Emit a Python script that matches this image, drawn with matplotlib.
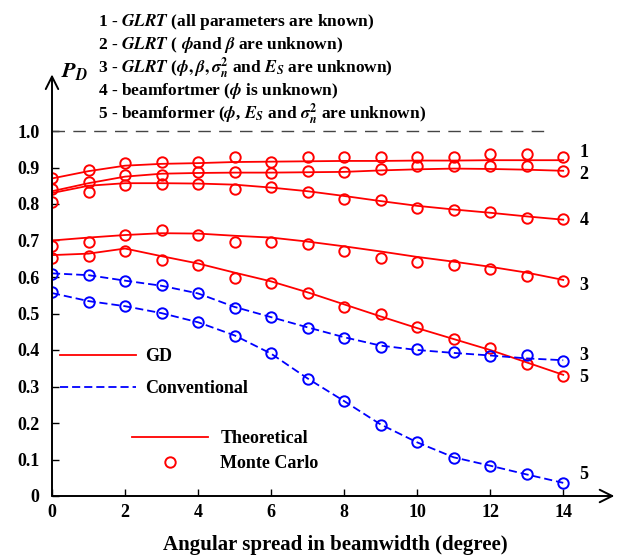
import matplotlib
matplotlib.use("Agg")
import matplotlib.pyplot as plt
from matplotlib.lines import Line2D
import numpy as np

plt.rcParams['font.family'] = ['Liberation Serif', 'DejaVu Serif']
plt.rcParams['font.weight'] = 'bold'
plt.rcParams['mathtext.fontset'] = 'stix'

spread = np.arange(0, 15)

# GD (red) theoretical curves
gd1_th = [0.870, 0.890, 0.905, 0.910, 0.912, 0.915, 0.916, 0.917, 0.918, 0.918, 0.919, 0.919, 0.920, 0.920, 0.920]
gd2_th = [0.835, 0.857, 0.875, 0.883, 0.885, 0.886, 0.886, 0.887, 0.888, 0.892, 0.895, 0.897, 0.896, 0.894, 0.891]
gd4_th = [0.830, 0.850, 0.857, 0.857, 0.856, 0.853, 0.845, 0.835, 0.822, 0.808, 0.795, 0.785, 0.776, 0.766, 0.757]
gd3_th = [0.700, 0.708, 0.715, 0.720, 0.719, 0.713, 0.708, 0.697, 0.684, 0.670, 0.655, 0.642, 0.628, 0.612, 0.592]
gd5_th = [0.660, 0.664, 0.678, 0.657, 0.637, 0.612, 0.588, 0.558, 0.525, 0.492, 0.460, 0.430, 0.400, 0.366, 0.332]

# GD (red) Monte Carlo points
gd1_mc = [0.872, 0.892, 0.911, 0.916, 0.915, 0.930, 0.916, 0.930, 0.930, 0.928, 0.930, 0.930, 0.936, 0.936, 0.930]
gd2_mc = [0.840, 0.859, 0.879, 0.879, 0.888, 0.888, 0.884, 0.891, 0.888, 0.897, 0.904, 0.904, 0.904, 0.904, 0.891]
gd4_mc = [0.805, 0.834, 0.852, 0.854, 0.854, 0.840, 0.846, 0.834, 0.815, 0.811, 0.790, 0.784, 0.779, 0.763, 0.759]
gd3_mc = [0.685, 0.695, 0.715, 0.729, 0.715, 0.697, 0.695, 0.690, 0.672, 0.651, 0.640, 0.633, 0.621, 0.604, 0.590]
gd5_mc = [0.653, 0.658, 0.672, 0.647, 0.633, 0.596, 0.584, 0.555, 0.517, 0.498, 0.462, 0.429, 0.405, 0.363, 0.329]

# Conventional (blue)
cv3_th = [0.610, 0.605, 0.590, 0.576, 0.555, 0.518, 0.490, 0.462, 0.435, 0.412, 0.400, 0.392, 0.385, 0.377, 0.372]
cv5_th = [0.556, 0.534, 0.520, 0.501, 0.476, 0.440, 0.390, 0.322, 0.260, 0.196, 0.147, 0.106, 0.083, 0.059, 0.036]
cv3_mc = [0.609, 0.605, 0.590, 0.578, 0.555, 0.514, 0.491, 0.461, 0.432, 0.409, 0.402, 0.395, 0.384, 0.386, 0.371]
cv5_mc = [0.558, 0.532, 0.521, 0.502, 0.478, 0.439, 0.391, 0.320, 0.260, 0.195, 0.147, 0.105, 0.083, 0.059, 0.035]

end_labels = ['1', '2', '4', '3', '3', '5', '5']
end_y = [0.940, 0.880, 0.755, 0.578, 0.385, 0.326, 0.060]

header = [
    r'1 - $\mathit{GLRT}$ (all parameters are known)',
    r'2 - $\mathit{GLRT}$ ( $\boldsymbol{\phi}$and $\boldsymbol{\beta}$ are unknown)',
    r'3 - $\mathit{GLRT}$ ($\boldsymbol{\phi},\boldsymbol{\beta},\boldsymbol{\sigma}_{\boldsymbol{n}}^{\mathbf{2}}$ and $E_S$ are unknown)',
    r'4 - beamfortmer ($\boldsymbol{\phi}$ is unknown)',
    r'5 - beamformer ($\boldsymbol{\phi}$, $E_S$ and $\boldsymbol{\sigma}_{\boldsymbol{n}}^{\mathbf{2}}$ are unknown)',
]

red = '#ff0000'
blue = '#0000ff'
dash = (4.5, 2.2)

fig = plt.figure(figsize=(6.24, 5.57), dpi=100)
ax = fig.add_axes([52/624, 61/557, 566/624, 436/557])
ax.set_xlim(0, 15.5)
ax.set_ylim(0, 436/365)

lw = 1.3
ms = 7.5
for th, mc in [(gd1_th, gd1_mc), (gd2_th, gd2_mc), (gd4_th, gd4_mc),
               (gd3_th, gd3_mc), (gd5_th, gd5_mc)]:
    ax.plot(spread, th, color=red, lw=lw)
    ax.plot(spread, mc, 'o', mfc='none', mec=red, mew=1.4, ms=ms)
for th, mc in [(cv3_th, cv3_mc), (cv5_th, cv5_mc)]:
    ax.plot(spread, th, color=blue, lw=lw, dashes=dash)
    ax.plot(spread, mc, 'o', mfc='none', mec=blue, mew=1.4, ms=ms)

ax.plot([0, 13.7], [1.0, 1.0], color='#444444', lw=1.0, dashes=(9, 6))

for lab, y in zip(end_labels, end_y):
    ax.text(14.45, y, lab, fontsize=13, fontweight='bold', va='center', ha='left')

# axes as arrows
for s in ax.spines.values():
    s.set_visible(False)
ax.annotate('', xy=(15.4, 0), xytext=(0, 0),
            arrowprops=dict(arrowstyle='->,head_length=0.9,head_width=0.45', lw=1.4, color='black',
                            shrinkA=0, shrinkB=0), annotation_clip=False)
ax.annotate('', xy=(0, 1.155), xytext=(0, 0),
            arrowprops=dict(arrowstyle='->,head_length=0.9,head_width=0.45', lw=1.4, color='black',
                            shrinkA=0, shrinkB=0), annotation_clip=False)

ax.set_xticks(range(0, 15, 2))
ax.set_yticks(np.arange(0, 1.01, 0.1))
ax.set_yticklabels(['0', '0.1', '0.2', '0.3', '0.4', '0.5', '0.6', '0.7', '0.8', '0.9', '1.0'])
ax.tick_params(direction='in', length=5, width=1, labelsize=13, pad=6)
ax.tick_params(axis='y', pad=9)
for t in ax.get_xticklabels() + ax.get_yticklabels():
    t.set_fontweight('bold')

ax.set_xlabel('Angular spread in beamwidth (degree)', fontsize=15, fontweight='bold', labelpad=10)
fig.text(61/624, 1 - 72/557, r'$P_D$', fontsize=16, va='center')

for i, line in enumerate(header):
    fig.text(98/624, 1 - (22 + 23*i)/557, line, fontsize=12.5, fontweight='bold', va='center')

# legends
h1 = [Line2D([], [], color=red, lw=lw), Line2D([], [], color=blue, lw=lw, dashes=dash)]
leg1 = ax.legend(h1, ['GD', 'Conventional'], loc='upper left', bbox_to_anchor=(60/624, 1 - 348/557),
                 bbox_transform=fig.transFigure, frameon=False, handlelength=4.2,
                 handletextpad=0.5, labelspacing=0.85, borderpad=0, borderaxespad=0,
                 prop={'weight': 'bold', 'size': 13})
ax.add_artist(leg1)
h2 = [Line2D([], [], color=red, lw=lw),
      Line2D([], [], ls='none', marker='o', mfc='none', mec=red, mew=1.4, ms=ms)]
ax.legend(h2, ['Theoretical', 'Monte Carlo'], loc='upper left', bbox_to_anchor=(132/624, 1 - 430/557),
          bbox_transform=fig.transFigure, frameon=False, handlelength=4.2,
          handletextpad=0.7, labelspacing=0.45, borderpad=0, borderaxespad=0,
          prop={'weight': 'bold', 'size': 13})

fig.savefig('out.png', dpi=100)
